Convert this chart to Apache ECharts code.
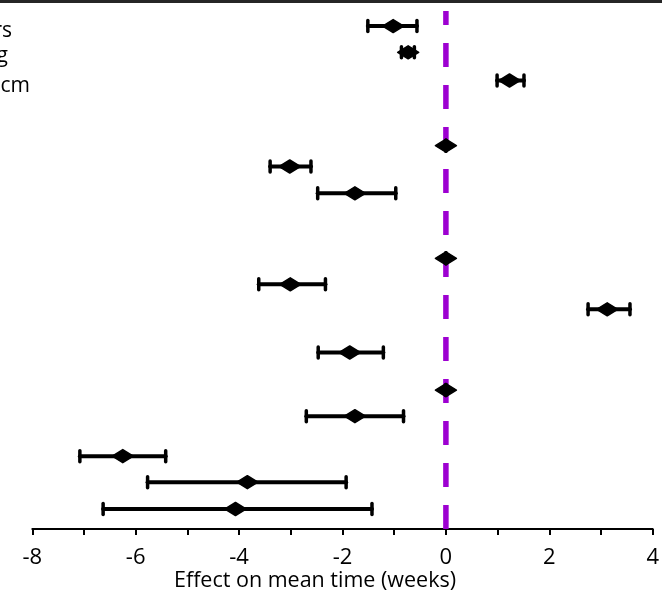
<!doctype html>
<html>
	<head>
		<meta charset="UTF-8">
		<title>Effect on mean time</title>
		<script src="https://cdn.jsdelivr.net/npm/echarts@6/dist/echarts.min.js"></script>
		<style>
			html, body { margin: 0; padding: 0; background: #fff; }
			#chart { width: 662px; height: 593px; }
		</style>
	</head>
	<body>
		<div id="chart"></div>
		<script type="text/javascript">
			// row position (top to bottom) and estimates with 95% limits, in weeks
			var rowPos = [0.99, 1.99, 3.06, 5.54, 6.33, 7.35, 9.82, 10.81, 11.76, 13.40, 14.83, 15.82, 17.34, 18.33, 19.35];
			var estimate = [-1.02, -0.73, 1.23, 0, -3.02, -1.76, 0, -3.01, 3.12, -1.86, 0, -1.76, -6.25, -3.84, -4.07];
			var lower = [-1.51, -0.86, 0.99, 0, -3.40, -2.48, 0, -3.62, 2.75, -2.47, 0, -2.70, -7.08, -5.77, -6.63];
			var upper = [-0.56, -0.61, 1.51, 0, -2.61, -0.97, 0, -2.33, 3.56, -1.21, 0, -0.82, -5.42, -1.93, -1.43];
			var xTicks = [-8, -6, -4, -2, 0, 2, 4];
			var rowLabels = ['rs', 'g', 'cm'];
			// reference line at no effect: [x, from row, to row]
			var refLine = [[0, 0.42, 20.11]];

			var data = [];
			for (var i = 0; i < rowPos.length; i++) {
				data.push([lower[i], upper[i], estimate[i], rowPos[i]]);
			}

			function renderRow(params, api) {
				var row = api.value(3);
				var lo = api.coord([api.value(0), row]);
				var hi = api.coord([api.value(1), row]);
				var c = api.coord([api.value(2), row]);
				var cap = 5.5, dw = 10.5, dh = 6.5;
				return {
					type: 'group',
					children: [{
						type: 'line',
						shape: { x1: lo[0], y1: lo[1], x2: hi[0], y2: hi[1] },
						style: { stroke: '#000', lineWidth: 4, lineCap: 'round' }
					}, {
						type: 'line',
						shape: { x1: lo[0], y1: lo[1] - cap, x2: lo[0], y2: lo[1] + cap },
						style: { stroke: '#000', lineWidth: 3.5, lineCap: 'round' }
					}, {
						type: 'line',
						shape: { x1: hi[0], y1: hi[1] - cap, x2: hi[0], y2: hi[1] + cap },
						style: { stroke: '#000', lineWidth: 3.5, lineCap: 'round' }
					}, {
						type: 'polygon',
						shape: { points: [[c[0] - dw, c[1]], [c[0], c[1] - dh], [c[0] + dw, c[1]], [c[0], c[1] + dh]] },
						style: { fill: '#000', stroke: '#000', lineWidth: 1.5, lineJoin: 'round' }
					}]
				};
			}

			function renderRef(params, api) {
				var a = api.coord([api.value(0), api.value(1)]);
				var b = api.coord([api.value(0), api.value(2)]);
				return {
					type: 'line',
					shape: { x1: a[0], y1: a[1], x2: b[0], y2: b[1] },
					style: { stroke: '#9d00d1', lineWidth: 5.5, lineDash: [24, 18], lineDashOffset: 10 }
				};
			}

			var font = '"Open Sans", sans-serif';
			var labelEnds = [12, 8, 30];
			var labelMid = [31.5, 56, 86.5];
			var graphics = [{
				type: 'rect',
				shape: { x: 0, y: 0, width: 662, height: 3 },
				style: { fill: '#262626' }
			}, {
				type: 'text',
				style: {
					x: 315, y: 581, text: 'Effect on mean time (weeks)',
					font: '21.5px ' + font, fill: '#000', align: 'center', verticalAlign: 'middle'
				}
			}];
			for (var k = 0; k < rowLabels.length; k++) {
				graphics.push({
					type: 'text',
					style: {
						x: labelEnds[k], y: labelMid[k], text: rowLabels[k],
						font: '21px ' + font, fill: '#000', align: 'right', verticalAlign: 'middle'
					}
				});
			}

			var chart = echarts.init(document.getElementById('chart'));
			chart.setOption({
				animation: false,
				backgroundColor: '#fff',
				grid: { left: 32.3, right: 6.1, top: 0, bottom: 64 },
				xAxis: {
					type: 'value',
					position: 'bottom',
					min: -8,
					max: 4,
					interval: 1,
					axisLine: { show: true, onZero: false, lineStyle: { color: '#000', width: 2 } },
					axisTick: { show: true, length: 6, lineStyle: { color: '#000', width: 2 } },
					axisLabel: {
						margin: 18,
						color: '#000',
						fontFamily: font,
						fontSize: 22,
						formatter: function(v) {
							return xTicks.indexOf(v) >= 0 ? String(v) : '';
						}
					},
					splitLine: { show: false }
				},
				yAxis: {
					type: 'value',
					inverse: true,
					min: 0,
					max: 20.11,
					show: false
				},
				graphic: graphics,
				series: [{
					type: 'custom',
					z: 1,
					silent: true,
					renderItem: renderRef,
					encode: { x: 0, y: [1, 2] },
					data: refLine
				}, {
					type: 'custom',
					z: 3,
					renderItem: renderRow,
					encode: { x: [0, 1, 2], y: 3 },
					data: data
				}]
			});
		</script>
	</body>
</html>
